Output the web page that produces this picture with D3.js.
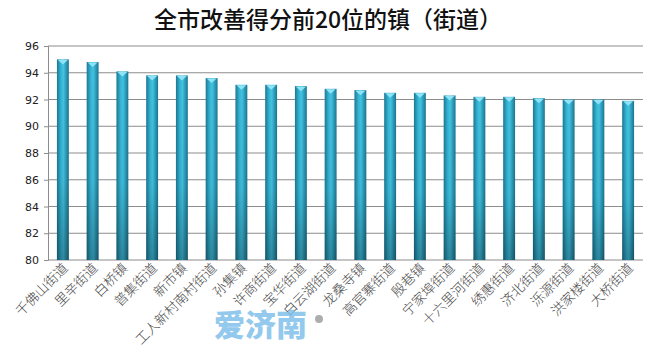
<!DOCTYPE html>
<html lang="zh">
<head>
<meta charset="UTF-8">
<title>全市改善得分前20位的镇（街道）</title>
<script src="https://d3js.org/d3.v7.min.js"></script>
<style>
  body { margin: 0; background: #fff; }
  svg { display: block; }
  .tick text { font-family: "DejaVu Sans", sans-serif; font-size: 11px; fill: #222; }
  .xlab { font-family: "Noto Sans CJK SC", sans-serif; font-size: 13.5px; font-weight: 300; fill: #4a4a4a; }
</style>
</head>
<body>
<svg id="chart"></svg>
<script>
// 数据
const towns = ["千佛山街道", "里辛街道", "白桥镇", "普集街道", "新市镇", "工人新村南村街道",
  "孙集镇", "许商街道", "宝华街道", "白云湖街道", "龙桑寺镇", "高官寨街道", "殷巷镇",
  "宁家埠街道", "十六里河街道", "绣惠街道", "济北街道", "泺源街道", "洪家楼街道", "大桥街道"];
const scores = [95.0, 94.8, 94.1, 93.8, 93.8, 93.6, 93.1, 93.1, 93.0, 92.8,
  92.7, 92.5, 92.5, 92.3, 92.2, 92.2, 92.1, 92.0, 92.0, 91.9];
const yTicks = [80, 82, 84, 86, 88, 90, 92, 94, 96];

const width = 672, height = 358;
const margin = { top: 46, right: 29, bottom: 98, left: 48 };
const svg = d3.select("#chart").attr("width", width).attr("height", height);

// 柱子渐变
const defs = svg.append("defs");
const gh = defs.append("linearGradient").attr("id", "barH").attr("x1", 0).attr("x2", 1).attr("y1", 0).attr("y2", 0);
[[0, "#1b7893"], [0.35, "#36b6d6"], [0.55, "#42c3e2"], [1, "#1a7590"]]
  .forEach(s => gh.append("stop").attr("offset", s[0]).attr("stop-color", s[1]));
const gv = defs.append("linearGradient").attr("id", "barV").attr("x1", 0).attr("x2", 0).attr("y1", 0).attr("y2", 1);
[[0, "#000", 0], [0.6, "#000", 0.05], [1, "#000", 0.3]]
  .forEach(s => gv.append("stop").attr("offset", s[0]).attr("stop-color", s[1]).attr("stop-opacity", s[2]));

const x = d3.scaleBand().domain(towns).range([margin.left, width - margin.right]).paddingInner(0.6).paddingOuter(0.3);
const y = d3.scaleLinear().domain([80, 96]).range([height - margin.bottom, margin.top]);

// 标题
svg.append("text")
  .attr("x", 328).attr("y", 28)
  .attr("text-anchor", "middle")
  .style("font-family", "'Noto Sans CJK SC', sans-serif")
  .style("font-size", "23px").style("font-weight", "500").style("fill", "#111")
  .text("全市改善得分前20位的镇（街道）");

// 网格线
svg.append("g")
  .selectAll("line")
  .data(yTicks.slice(1))
  .join("line")
  .attr("x1", margin.left).attr("x2", width - margin.right)
  .attr("y1", d => y(d)).attr("y2", d => y(d))
  .attr("stroke", "#8c8c8c").attr("stroke-width", 1);

// y轴
const yAxis = svg.append("g")
  .attr("transform", `translate(${margin.left},0)`)
  .call(d3.axisLeft(y).tickValues(yTicks).tickSize(4).tickPadding(5));
yAxis.selectAll("line, path").attr("stroke", "#8c8c8c");

// x轴线
svg.append("line")
  .attr("x1", margin.left).attr("x2", width - margin.right)
  .attr("y1", y(80)).attr("y2", y(80))
  .attr("stroke", "#8c8c8c");

// 柱子
const bars = svg.append("g").selectAll("g").data(towns).join("g");
bars.append("rect")
  .attr("x", d => x(d)).attr("y", (d, i) => y(scores[i]))
  .attr("width", x.bandwidth()).attr("height", (d, i) => y(80) - y(scores[i]))
  .attr("fill", "url(#barH)");
bars.append("rect")
  .attr("x", d => x(d)).attr("y", (d, i) => y(scores[i]))
  .attr("width", x.bandwidth()).attr("height", (d, i) => y(80) - y(scores[i]))
  .attr("fill", "url(#barV)");
// 顶部高光
bars.append("path")
  .attr("d", (d, i) => {
    const x0 = x(d), w = x.bandwidth(), t = y(scores[i]);
    return `M${x0 + 1},${t + 0.5} L${x0 + w - 1},${t + 0.5} L${x0 + w / 2},${t + 5} Z`;
  })
  .attr("fill", "#8fe3f6");

// 类别标签
svg.append("g").selectAll("text")
  .data(towns)
  .join("text")
  .attr("class", "xlab")
  .attr("text-anchor", "end")
  .attr("transform", d => `translate(${x(d) + x.bandwidth() / 2 + 6},${y(80) + 9}) rotate(-45)`)
  .text(d => d);

// 水印
svg.append("text")
  .attr("x", 214).attr("y", 336)
  .style("font-family", "'Noto Sans CJK SC', sans-serif")
  .style("font-size", "31px").style("font-weight", "900")
  .style("fill", "#7fc0ea").style("opacity", 0.85)
  .text("爱济南");
svg.append("circle").attr("cx", 319).attr("cy", 319).attr("r", 4).attr("fill", "#999").attr("opacity", 0.8);
</script>
</body>
</html>
